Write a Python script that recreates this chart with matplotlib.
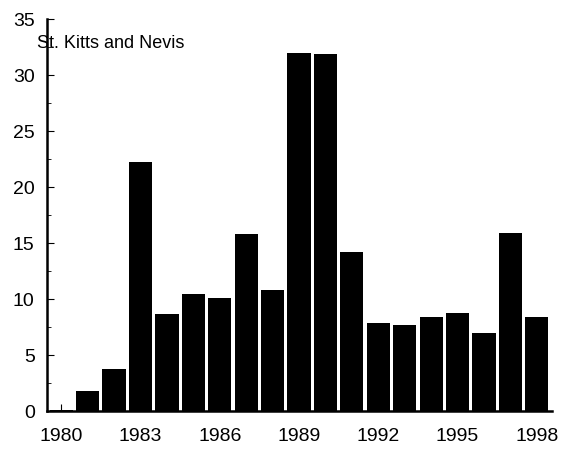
import matplotlib
matplotlib.use('Agg')
import matplotlib.pyplot as plt
import numpy as np

# Data
years = np.arange(1980, 1999)
values = [0.1, 1.8, 3.8, 22.3, 8.7, 10.5, 10.1, 15.8, 10.8, 32.0, 31.9,
          14.2, 7.9, 7.7, 8.4, 8.8, 7.0, 15.9, 8.45]
xtick_years = [1980, 1983, 1986, 1989, 1992, 1995, 1998]
yticks = [0, 5, 10, 15, 20, 25, 30, 35]
title = "St. Kitts and Nevis"


def main():
    plt.rcParams['font.family'] = ['Liberation Sans', 'DejaVu Sans']
    fig = plt.figure(figsize=(5.62, 4.49), dpi=100)
    ax = fig.add_axes([0.084, 0.084, 0.898, 0.873])

    ax.bar(years, values, width=0.88, color='black')

    ax.set_xlim(1979.47, 1998.57)
    ax.set_ylim(0, 35)
    ax.set_yticks(yticks)
    ax.set_yticks(np.arange(2.5, 35, 5), minor=True)
    ax.set_xticks(xtick_years)
    ax.set_xticks(years, minor=True)

    ax.spines['top'].set_visible(False)
    ax.spines['right'].set_visible(False)
    ax.spines['left'].set_linewidth(1.8)
    ax.spines['bottom'].set_linewidth(1.8)

    ax.tick_params(axis='both', which='major', direction='in', length=5,
                   labelsize=14)
    ax.tick_params(axis='both', which='minor', direction='in', length=3)
    ax.tick_params(axis='x', pad=12)
    ax.tick_params(axis='y', pad=9)

    fig.text(0.066, 0.904, title, fontsize=13, va='center', ha='left')

    fig.savefig('out.png', dpi=100)


if __name__ == "__main__":
    main()
